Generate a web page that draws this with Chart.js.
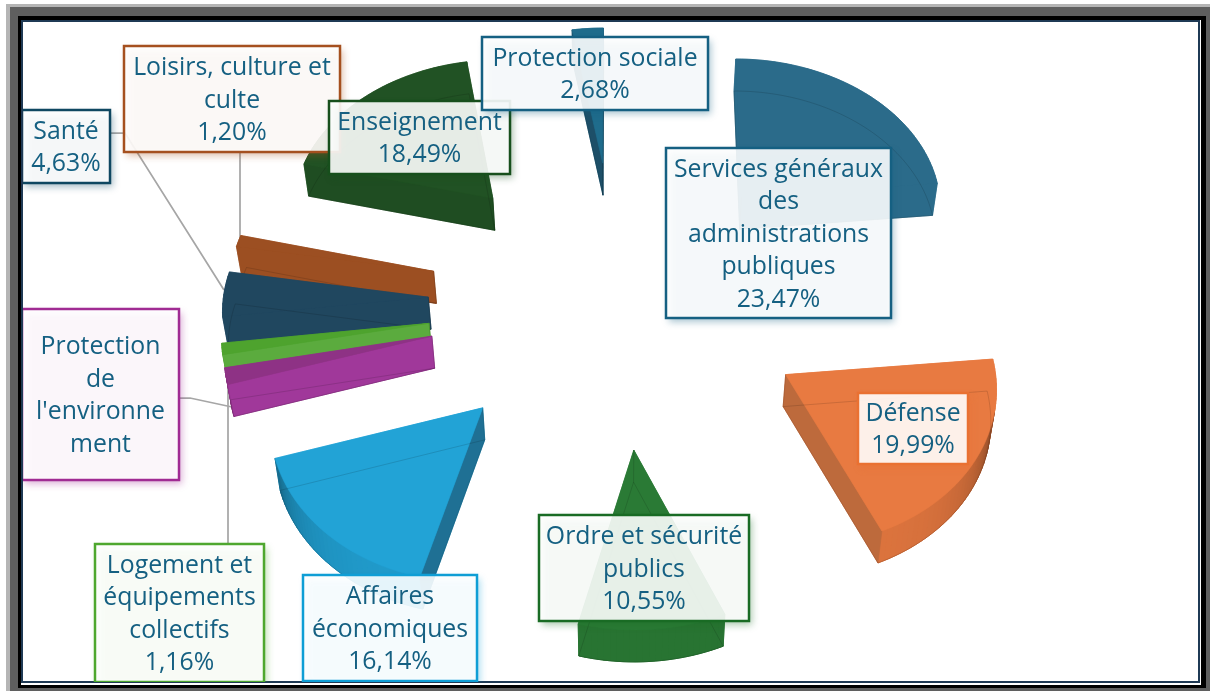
<!DOCTYPE html>
<html lang="fr">
<head>
<meta charset="utf-8">
<title>Dépenses publiques par fonction</title>
<style>
  html, body { margin: 0; padding: 0; background: #fff; overflow: hidden; }
  #wrap { position: relative; width: 1210px; height: 691px; }
  #wrap div { position: absolute; box-sizing: border-box; }
  #f1 { left: 6px; top: 4px; right: 0; bottom: 0; background: #b5b5b5; }
  #f2 { left: 10px; top: 7px; right: 0; bottom: 0; background: #5f5f5f; }
  #f3 { left: 18px; top: 16px; right: 4px; bottom: 3px; background: #000; }
  #f4 { left: 21px; top: 20px; right: 9px; bottom: 6px; background: #fff; }
  #f5 { left: 21px; top: 20px; right: 10px; bottom: 8px; background: #fff; border: 2px solid #1f3a55; }
  canvas { position: absolute; left: 0; top: 0; }
</style>
</head>
<body>
<div id="wrap">
  <div id="f1"></div><div id="f2"></div><div id="f3"></div><div id="f4"></div><div id="f5"></div>
  <canvas id="pie" width="1210" height="691"></canvas>
</div>
<script src="https://cdn.jsdelivr.net/npm/chart.js@4/dist/chart.umd.min.js"></script>
<script>
'use strict';

// Data (clockwise from the top)
const categories = ['Services généraux des administrations publiques', 'Défense', 'Ordre et sécurité publics',
  'Affaires économiques', "Protection de l'environnement", 'Logement et équipements collectifs', 'Santé',
  'Loisirs, culture et culte', 'Enseignement', 'Protection sociale'];
// the environment value is cut off in the source, 1.69 is what is left of the 100%
const values = [23.47, 19.99, 10.55, 16.14, 1.69, 1.16, 4.63, 1.20, 18.49, 2.68];
const labelLines = [
  ['Services généraux', 'des', 'administrations', 'publiques'],
  ['Défense'],
  ['Ordre et sécurité', 'publics'],
  ['Affaires', 'économiques'],
  ['Protection', 'de', "l'environne", 'ment'],
  ['Logement et', 'équipements', 'collectifs'],
  ['Santé'],
  ['Loisirs, culture et', 'culte'],
  ['Enseignement'],
  ['Protection sociale']
];

// Styles
const topColors = ['#2b6b8a', '#e87a41', '#2a7a35', '#22a3d6', '#8e3285', '#4ea32e', '#20475f', '#9c4f22', '#215224', '#1f6c8c'];
const wallColors = ['#2b6b8a', '#bd6a3c', '#23692d', '#1f7094', '#a0389a', '#5bab3e', '#20475f', '#9c4f22', '#1f4d22', '#1d4f68'];
const borderColors = ['#156082', '#e97132', '#196b24', '#0f9ed5', '#a02b93', '#4ea72e', '#0f4761', '#a5501f', '#174f1c', '#156082'];
const rimShade = [0, 0.5, 0.5, 0.5, 0, 0, 0, 0, 0.5, 0.5];
const labelBoxes = [
  [666, 148, 225, 170], [858, 393, 110, 71], [539, 515, 210, 106], [303, 575, 174, 106], [22, 309, 157, 171],
  [95, 544, 169, 138], [22, 110, 88, 73], [124, 46, 216, 106], [329, 101, 181, 73], [482, 37, 226, 73]
];
const leaderLines = [
  [[110, 133], [125, 133], [224, 290]],
  [[240, 152], [240, 240]],
  [[179, 398], [190, 398], [232, 407]],
  [[228, 544], [228, 380]]
];
const showValue = [true, true, true, true, false, true, true, true, true, true];
const view = { cx: 618, cy: 300, ax: 205, ay: 155, persp: 0.05, depth: 32, converge: 0.985 };
const textColor = '#156082';
const labelFont = '24.8px "Open Sans"';
const lineHeight = 32.5;

function project(u, v, down) {
  const w = 1 - view.persp * v;
  const x = view.ax * u / w;
  const y = view.ay * v / w;
  if (down) return { x: view.cx + x * view.converge, y: view.cy + y + view.depth };
  return { x: view.cx + x, y: view.cy + y };
}

function shade(hex, k) {
  const n = parseInt(hex.slice(1), 16);
  const c = [n >> 16, (n >> 8) & 255, n & 255].map(function (p) { return Math.round(p * (1 - k)); });
  return 'rgb(' + c.join(',') + ')';
}

function fillPoly(ctx, pts, color, seam) {
  ctx.beginPath();
  pts.forEach(function (p, i) { if (i) ctx.lineTo(p.x, p.y); else ctx.moveTo(p.x, p.y); });
  ctx.closePath();
  ctx.fillStyle = color;
  ctx.fill();
  ctx.strokeStyle = color;
  ctx.lineWidth = seam || 0.6;
  ctx.stroke();
}

function signedArea(pts) {
  let s = 0;
  pts.forEach(function (p, i) {
    const q = pts[(i + 1) % pts.length];
    s += p.x * q.y - q.x * p.y;
  });
  return s;
}

// one wedge of the pie, taken from the arc element the library laid out
function drawSlice(ctx, arc, i) {
  const p = arc.getProps(['startAngle', 'endAngle', 'outerRadius'], true);
  const mid = (p.startAngle + p.endAngle) / 2;
  const e = arc.options.offset / p.outerRadius;
  const ox = Math.cos(mid) * e, oy = Math.sin(mid) * e;
  const steps = Math.max(2, Math.ceil((p.endAngle - p.startAngle) / 0.03));
  const rim = [];
  for (let s = 0; s <= steps; s++) {
    const a = p.startAngle + (p.endAngle - p.startAngle) * s / steps;
    rim.push([ox + Math.cos(a), oy + Math.sin(a)]);
  }
  const top = function (q) { return project(q[0], q[1], false); };
  const bot = function (q) { return project(q[0], q[1], true); };
  const tip = [ox, oy];
  const bottomFace = [bot(tip)].concat(rim.map(bot));
  const topFace = [top(tip)].concat(rim.map(top));

  fillPoly(ctx, bottomFace, topColors[i]);

  // walls, the ones turned away first
  const walls = [];
  const last = rim[rim.length - 1];
  const rimWalls = [];
  for (let s = 0; s < rim.length - 1; s++) {
    const a = top(rim[s]), b = top(rim[s + 1]);
    const f = Math.abs(b.x - a.x) / Math.hypot(b.x - a.x, b.y - a.y);
    rimWalls.push({
      pts: [a, b, bot(rim[s + 1]), bot(rim[s])],
      color: shade(topColors[i], 0.05 + rimShade[i] * Math.pow(1 - f, 1.6))
    });
  }
  walls.push({ pts: [top(tip), top(rim[0]), bot(rim[0]), bot(tip)], color: wallColors[i] });
  walls.push({ pts: [top(last), top(tip), bot(tip), bot(last)], color: wallColors[i] });
  walls.forEach(function (w) { if (signedArea(w.pts) >= 0) fillPoly(ctx, w.pts, topColors[i]); });
  rimWalls.forEach(function (w) { if (signedArea(w.pts) >= 0) fillPoly(ctx, w.pts, topColors[i]); });
  rimWalls.forEach(function (w) { if (signedArea(w.pts) < 0) fillPoly(ctx, w.pts, w.color, 1); });
  walls.forEach(function (w) { if (signedArea(w.pts) < 0) fillPoly(ctx, w.pts, w.color); });
  fillPoly(ctx, topFace, topColors[i]);

  // the far edges show faintly through the translucent solid
  ctx.beginPath();
  bottomFace.forEach(function (q, n) { if (n) ctx.lineTo(q.x, q.y); else ctx.moveTo(q.x, q.y); });
  ctx.closePath();
  const t = top(tip), b = bot(tip);
  ctx.moveTo(t.x, t.y); ctx.lineTo(b.x, b.y);
  ctx.strokeStyle = 'rgba(0,0,0,0.13)';
  ctx.lineWidth = 1;
  ctx.stroke();
}

function drawLabel(ctx, i) {
  const box = labelBoxes[i];
  const lines = labelLines[i].slice();
  if (showValue[i]) lines.push(values[i].toFixed(2).replace('.', ',') + '%');
  ctx.save();
  ctx.shadowColor = borderColors[i] + '66';
  ctx.shadowBlur = 7;
  ctx.shadowOffsetX = 3;
  ctx.shadowOffsetY = 4;
  ctx.fillStyle = 'rgba(255,255,255,0.89)';
  ctx.fillRect(box[0], box[1], box[2], box[3]);
  ctx.restore();
  ctx.strokeStyle = borderColors[i];
  ctx.lineWidth = 2.5;
  ctx.strokeRect(box[0], box[1], box[2], box[3]);
  ctx.fillStyle = textColor;
  ctx.font = labelFont;
  ctx.textAlign = 'center';
  ctx.textBaseline = 'middle';
  const midY = box[1] + box[3] / 2 - (lines.length - 1) * lineHeight / 2 + 1.5;
  lines.forEach(function (text, n) {
    ctx.fillText(text, box[0] + box[2] / 2, midY + n * lineHeight);
  });
}

const pie3d = {
  id: 'pie3d',
  beforeDatasetDraw: function (chart) {
    const ctx = chart.ctx;
    const arcs = chart.getDatasetMeta(0).data;
    ctx.save();
    // leader lines sit under the wedges
    ctx.strokeStyle = '#a6a6a6';
    ctx.lineWidth = 1.75;
    leaderLines.forEach(function (line) {
      ctx.beginPath();
      line.forEach(function (q, n) { if (n) ctx.lineTo(q[0], q[1]); else ctx.moveTo(q[0], q[1]); });
      ctx.stroke();
    });
    // back to front
    const order = arcs.map(function (arc, i) { return i; }).sort(function (a, b) {
      const pa = arcs[a].getProps(['startAngle', 'endAngle'], true);
      const pb = arcs[b].getProps(['startAngle', 'endAngle'], true);
      return Math.sin((pa.startAngle + pa.endAngle) / 2) - Math.sin((pb.startAngle + pb.endAngle) / 2);
    });
    order.forEach(function (i) { drawSlice(ctx, arcs[i], i); });
    ctx.restore();
    return false;
  },
  afterDatasetsDraw: function (chart) {
    const ctx = chart.ctx;
    ctx.save();
    ctx.beginPath();
    ctx.rect(23, 22, 1175, 660);
    ctx.clip();
    labelBoxes.forEach(function (box, i) { drawLabel(ctx, i); });
    ctx.restore();
  }
};

const chart = new Chart(document.getElementById('pie').getContext('2d'), {
  type: 'pie',
  data: {
    labels: categories,
    datasets: [{
      data: values,
      backgroundColor: topColors,
      borderWidth: 0,
      offset: 139
    }]
  },
  options: {
    responsive: false,
    animation: false,
    radius: 150,
    plugins: {
      legend: { display: false },
      tooltip: { enabled: false }
    }
  },
  plugins: [pie3d]
});
</script>
</body>
</html>
